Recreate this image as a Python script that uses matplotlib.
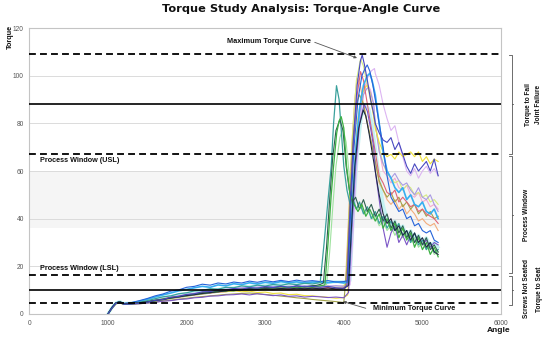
import matplotlib
matplotlib.use("Agg")
import matplotlib.pyplot as plt
import matplotlib.transforms as mtransforms

# ---------------- data ----------------
TITLE = "Torque Study Analysis: Torque-Angle Curve"
X_TICKS = [0, 1000, 2000, 3000, 4000, 5000, 6000]
Y_TICKS = [0, 20, 40, 60, 80, 100, 120]

LIMIT_DASHED = [109, 67, 16.5, 4.5]
LIMIT_SOLID = [88, 10]
BAND = [36, 60]

RAMP_ANGLE = [1000, 1050, 1100, 1150, 1200, 1300, 1400, 1500, 1600, 1700, 1800, 1900, 2000, 2100,
              2200, 2300, 2400, 2500, 2600, 2700, 2800, 2900, 3000, 3100, 3200, 3300, 3400, 3500, 3600]
TAIL_ANGLE = [4400, 4450, 4500, 4550, 4600, 4650, 4700, 4750, 4800, 4850, 4900, 4950, 5000,
              5050, 5100, 5150, 5200]

# early group
teal_ramp = [0, 2.8, 4.6, 5.1, 4.3, 4.4, 4.9, 5.6, 6.4, 7.2, 7.6, 8.5, 8.9, 9.7, 9.9, 10.6, 10.4, 11.2,
             11.0, 11.8, 11.4, 12.1, 11.7, 12.4, 12.0, 12.7, 12.3, 12.9, 12.6]
teal_mid_a = [3650, 3700, 3750, 3800, 3840, 3870, 3907, 3940, 3970, 4000, 4040, 4080, 4120, 4160, 4200, 4250, 4300, 4350]
teal_mid_t = [12.9, 13.2, 30, 48, 62, 80, 95.8, 90, 76, 62, 52, 46, 48, 44, 47, 42, 45, 40]
teal_tail = [43, 38, 41, 36, 39, 35, 38, 33, 35, 30, 34, 29, 31, 27, 30, 26, 27]

green_ramp = [0, 2.5, 4.4, 5.0, 4.2, 4.3, 4.6, 5.2, 5.5, 6.3, 6.6, 7.3, 7.6, 8.3, 8.5, 9.2, 9.3, 9.9,
              9.7, 10.4, 10.2, 10.8, 10.4, 11.0, 10.7, 11.3, 10.9, 11.5, 11.2]
green_mid_a = [3650, 3700, 3760, 3800, 3840, 3870, 3910, 3940, 3967, 4000, 4035, 4080, 4130, 4180, 4230, 4280, 4330]
green_mid_t = [11.5, 11.8, 12.2, 30, 50, 62, 76, 81, 82.8, 78, 62, 50, 46, 43, 46, 41, 44]
green_tail = [39, 42, 36, 40, 35, 38, 32, 36, 31, 34, 28, 32, 27, 30, 25, 28, 24]

dkgreen_ramp = [0, 2.6, 4.5, 5.2, 4.4, 4.5, 4.8, 5.0, 5.8, 6.0, 6.9, 7.1, 7.9, 8.1, 8.9, 8.8, 9.7, 9.6,
                10.4, 10.1, 10.8, 10.4, 11.2, 10.9, 11.5, 11.0, 11.8, 11.3, 11.9]
dkgreen_mid_a = [3650, 3700, 3740, 3780, 3820, 3860, 3900, 3950, 3990, 4030, 4070, 4110, 4150, 4200, 4250, 4300, 4350]
dkgreen_mid_t = [12.0, 12.4, 13, 28, 48, 66, 77, 81.5, 77, 62, 52, 47, 49, 44, 48, 43, 46]
dkgreen_tail = [41, 44, 39, 42, 36, 39, 34, 37, 32, 35, 30, 33, 29, 32, 27, 29, 26]

palegreen_ramp = [0, 2.4, 4.3, 4.9, 4.1, 4.2, 4.5, 4.9, 5.4, 5.9, 6.4, 6.9, 7.4, 7.9, 8.3, 8.7, 9.1, 9.4,
                  9.8, 10.0, 10.3, 10.1, 10.5, 10.8, 10.5, 10.9, 10.7, 11.1, 10.9]
palegreen_mid_a = [3650, 3700, 3780, 3820, 3860, 3900, 3950, 3990, 4030, 4070, 4110, 4160, 4210, 4260, 4310, 4360]
palegreen_mid_t = [11.0, 11.3, 12, 26, 45, 62, 74, 78, 72, 58, 48, 44, 46, 42, 44, 40]
palegreen_tail = [41, 37, 39, 35, 37, 33, 36, 32, 34, 30, 32, 28, 30, 27, 29, 25, 26]

# main group
slate_ramp = [0, 2.4, 4.4, 4.9, 4.1, 4.2, 4.6, 5.0, 5.7, 6.1, 7.0, 7.4, 8.2, 8.5, 9.3, 9.4, 10.2, 10.0,
              10.7, 10.4, 11.1, 10.8, 11.5, 11.1, 11.7, 11.2, 11.8, 11.4, 11.6]
slate_mid_a = [3700, 3800, 3900, 4000, 4040, 4080, 4120, 4170, 4210, 4234, 4260, 4300, 4340, 4380]
slate_mid_t = [11.2, 11.6, 11.0, 10.8, 12, 45, 72, 96, 106, 108.7, 105, 98, 90, 84]
slate_tail = [80, 76, 73, 72, 74, 69, 72, 67, 62, 59, 63, 60, 62, 64, 60, 65, 58]

blue_ramp = [0, 2.7, 4.7, 5.2, 4.4, 4.8, 5.6, 6.5, 7.6, 8.4, 9.6, 10.1, 11.2, 11.6, 12.5, 12.1, 13.0, 12.6,
             13.4, 13.0, 13.8, 13.3, 14.0, 13.5, 14.1, 13.6, 14.2, 13.7, 14.0]
blue_mid_a = [3700, 3800, 3900, 4000, 4050, 4090, 4130, 4180, 4230, 4270, 4298, 4330, 4370]
blue_mid_t = [13.6, 14.0, 13.4, 13.6, 14, 45, 70, 90, 100, 103, 104.5, 102, 96]
blue_tail = [90, 80, 70, 58, 49, 46, 43, 44, 40, 41, 37, 38, 35, 34, 35, 31, 30]

ltblue_ramp = [0, 2.6, 4.5, 5.0, 4.3, 4.6, 5.3, 6.2, 7.1, 8.0, 8.8, 9.7, 10.3, 11.0, 11.6, 11.2, 12.2, 11.8,
               12.7, 12.3, 13.1, 12.6, 13.3, 12.9, 13.6, 13.1, 13.5, 13.0, 13.4]
ltblue_mid_a = [3700, 3800, 3900, 4000, 4060, 4100, 4150, 4200, 4250, 4300, 4331, 4360]
ltblue_mid_t = [13.4, 13.1, 13.5, 13.0, 13.5, 40, 68, 86, 96, 100, 101, 98]
ltblue_tail = [92, 80, 68, 60, 57, 53, 51, 53, 48, 50, 46, 45, 47, 43, 42, 44, 40]

lavender_ramp = [0, 2.5, 4.4, 4.9, 4.2, 4.3, 4.6, 5.1, 5.7, 6.3, 7.0, 7.6, 8.2, 8.7, 9.2, 9.6, 10.1, 10.4,
                 10.8, 11.1, 11.0, 11.4, 11.6, 11.3, 11.7, 11.5, 11.8, 11.6, 11.9]
lavender_mid_a = [3700, 3800, 3900, 4000, 4080, 4120, 4160, 4200, 4250, 4300, 4350, 4390]
lavender_mid_t = [11.7, 12.0, 11.6, 11.9, 12.2, 35, 60, 80, 92, 99, 102, 103]
lavender_tail = [101, 96, 88, 82, 77, 79, 72, 66, 60, 58, 61, 57, 60, 62, 59, 61, 58]

lime_ramp = [0, 2.5, 4.5, 5.0, 4.2, 4.3, 4.6, 5.0, 5.5, 6.1, 6.7, 7.2, 7.8, 8.3, 8.8, 9.2, 9.6, 10.0,
             10.3, 10.7, 10.5, 11.0, 11.2, 10.9, 11.4, 11.1, 11.5, 11.3, 11.6]
lime_mid_a = [3700, 3800, 3900, 3980, 4030, 4070, 4110, 4160, 4213, 4250, 4300, 4350]
lime_mid_t = [11.4, 11.7, 11.2, 11.4, 13, 45, 75, 98, 107, 104, 96, 88]
lime_tail = [80, 70, 63, 59, 57, 55, 56, 52, 54, 53, 50, 51, 49, 50, 47, 48, 46]

yellow_ramp = [0, 2.3, 4.3, 4.8, 4.0, 4.1, 4.5, 5.0, 5.6, 6.2, 6.9, 7.3, 8.0, 8.3, 8.9, 9.1, 9.6, 9.3,
               9.8, 9.3, 9.6, 9.0, 9.2, 8.6, 8.8, 8.1, 8.3, 7.7, 7.6]
yellow_mid_a = [3700, 3800, 3900, 4000, 4050, 4090, 4130, 4180, 4230, 4270, 4298, 4330, 4370]
yellow_mid_t = [7.3, 7.0, 6.6, 6.9, 8, 35, 60, 82, 92, 95, 96, 93, 85]
yellow_tail = [78, 72, 68, 66, 67, 65, 68, 66, 67, 68, 66, 68, 64, 66, 63, 65, 64]

red_ramp = [0, 2.6, 4.5, 5.0, 4.2, 4.4, 4.7, 5.2, 5.7, 6.3, 6.9, 7.4, 7.9, 8.4, 8.8, 9.2, 9.6, 9.9,
            10.2, 10.5, 10.3, 10.7, 10.9, 10.6, 10.9, 10.7, 11.0, 10.8, 11.0]
red_mid_a = [3700, 3800, 3900, 4000, 4040, 4080, 4120, 4170, 4213, 4250, 4290, 4330, 4370]
red_mid_t = [10.8, 11.1, 10.7, 10.9, 12, 42, 70, 92, 101.7, 98, 90, 82, 74]
red_tail = [68, 58, 55, 51, 50, 52, 47, 49, 47, 45, 46, 43, 44, 42, 41, 40, 38]

peach_ramp = [0, 2.4, 4.3, 4.9, 4.1, 4.2, 4.5, 4.9, 5.4, 5.9, 6.5, 7.0, 7.5, 8.0, 8.4, 8.8, 9.1, 9.4,
              9.7, 9.9, 10.2, 10.0, 10.3, 10.1, 10.4, 10.2, 10.5, 10.3, 10.5]
peach_mid_a = [3700, 3800, 3900, 3980, 4020, 4060, 4100, 4140, 4170, 4210, 4250, 4300, 4350]
peach_mid_t = [10.4, 10.6, 10.3, 10.5, 12, 40, 70, 90, 99, 96, 88, 80, 72]
peach_tail = [64, 55, 52, 48, 46, 48, 44, 46, 42, 44, 42, 39, 40, 38, 37, 38, 35]

navy_ramp = [0, 2.6, 4.6, 5.1, 4.3, 4.4, 4.7, 5.1, 5.6, 6.1, 6.7, 7.2, 7.7, 8.1, 8.6, 9.0, 9.3, 9.7,
             10.0, 10.2, 10.5, 10.3, 10.6, 10.4, 10.7, 10.5, 10.8, 10.6, 10.8]
navy_mid_a = [3700, 3800, 3900, 4000, 4060, 4100, 4140, 4190, 4247, 4280, 4320, 4360]
navy_mid_t = [10.6, 10.9, 10.5, 10.7, 12, 38, 62, 78, 85.6, 83, 76, 68]
navy_tail = [60, 50, 42, 38, 40, 35, 37, 33, 35, 31, 34, 30, 32, 28, 30, 26, 25]

purple_ramp = [0, 2.4, 4.4, 4.9, 4.1, 4.2, 4.3, 4.6, 4.9, 5.4, 5.6, 6.1, 6.3, 6.8, 7.0, 7.5, 7.6, 8.0,
               8.1, 8.4, 8.0, 8.5, 8.1, 7.7, 8.0, 7.4, 7.6, 7.1, 7.4]
purple_mid_a = [3700, 3800, 3900, 4000, 4060, 4100, 4150, 4200, 4260, 4300, 4340, 4380]
purple_mid_t = [7.2, 6.9, 7.1, 6.8, 9, 35, 62, 80, 88, 85, 78, 70]
purple_tail = [60, 48, 36, 28, 34, 37, 30, 33, 29, 33, 30, 32, 29, 31, 28, 30, 29]

olive_ramp = [0, 2.3, 4.2, 4.7, 4.0, 4.1, 4.3, 4.6, 5.0, 5.4, 5.8, 6.2, 6.6, 7.0, 7.3, 7.6, 7.9, 8.2,
              8.4, 8.6, 8.8, 8.5, 8.2, 7.9, 7.5, 7.2, 6.8, 6.5, 6.1]
olive_mid_a = [3700, 3800, 3900, 3950, 4000, 4040, 4080, 4120, 4160, 4200, 4250, 4300, 4350]
olive_mid_t = [5.8, 5.5, 5.2, 5.0, 4.8, 20, 50, 75, 88, 92, 88, 80, 72]
olive_tail = [64, 56, 52, 49, 51, 47, 49, 45, 47, 44, 46, 42, 44, 41, 43, 40, 41]

lilac_ramp = [0, 2.5, 4.5, 5.0, 4.2, 4.3, 4.6, 5.1, 5.7, 6.4, 7.0, 7.6, 8.1, 8.6, 9.1, 9.5, 9.9, 10.3,
              10.6, 10.9, 11.2, 11.0, 11.4, 11.6, 11.3, 11.7, 11.5, 11.9, 11.6]
lilac_mid_a = [3700, 3800, 3900, 4000, 4070, 4110, 4150, 4200, 4250, 4300, 4340, 4380]
lilac_mid_t = [11.8, 11.5, 11.9, 11.6, 12.5, 40, 66, 84, 92, 95, 93, 88]
lilac_tail = [80, 68, 63, 60, 57, 59, 56, 54, 55, 52, 50, 53, 49, 48, 50, 46, 43]

pink_ramp = [0, 2.5, 4.4, 4.9, 4.1, 4.3, 4.6, 5.0, 5.5, 6.0, 6.5, 7.0, 7.5, 8.0, 8.4, 8.8, 9.2, 9.5,
             9.8, 10.1, 9.9, 10.3, 10.5, 10.2, 10.6, 10.4, 10.7, 10.5, 10.8]
pink_mid_a = [3700, 3800, 3900, 4000, 4060, 4100, 4140, 4190, 4240, 4290, 4340, 4380]
pink_mid_t = [10.6, 10.9, 10.5, 10.8, 12, 38, 64, 84, 94, 97, 94, 88]
pink_tail = [80, 69, 60, 58, 55, 57, 53, 52, 54, 50, 49, 51, 47, 48, 45, 46, 44]

cyan_ramp = [0, 2.6, 4.6, 5.2, 4.4, 4.6, 5.0, 5.6, 6.2, 6.8, 7.4, 8.0, 8.5, 9.0, 9.5, 9.9, 10.3, 10.7,
             11.0, 11.3, 11.6, 11.9, 12.1, 12.3, 12.5, 12.7, 12.9, 13.0, 13.2]
cyan_mid_a = [3700, 3800, 3900, 4000, 4080, 4120, 4170, 4220, 4270, 4320, 4360]
cyan_mid_t = [13.3, 13.4, 13.5, 13.5, 14, 40, 66, 82, 88, 86, 80]
cyan_tail = [70, 58, 46, 40, 37, 39, 35, 37, 33, 35, 31, 33, 30, 32, 29, 30, 28]

# ---------------- figure ----------------
plt.rcParams['font.family'] = ['Liberation Sans', 'DejaVu Sans']
fig = plt.figure(figsize=(5.5, 3.4), dpi=100)
ax = fig.add_axes([0.0533, 0.0765, 0.8577, 0.8411])

ax.set_xlim(0, 6000)
ax.set_ylim(0, 120)
ax.set_xticks(X_TICKS)
ax.set_yticks(Y_TICKS)
ax.tick_params(length=0, labelsize=4.8, colors='#555555', pad=4)
for s in ax.spines.values():
    s.set_color('#c4c4c4')
    s.set_linewidth(0.8)
ax.grid(axis='y', color='#d6d6d6', linewidth=0.6, zorder=0)
ax.set_axisbelow(True)
ax.axhspan(BAND[0], BAND[1], color='#f5f5f5', zorder=0.5, lw=0)

curves = [
    (cyan_ramp, cyan_mid_a, cyan_mid_t, cyan_tail, '#c4f2f2', 2.2),
    (palegreen_ramp, palegreen_mid_a, palegreen_mid_t, palegreen_tail, '#9ee29e', 0.8),
    (lavender_ramp, lavender_mid_a, lavender_mid_t, lavender_tail, '#dcb4f2', 0.8),
    (pink_ramp, pink_mid_a, pink_mid_t, pink_tail, '#f3acd2', 0.8),
    (peach_ramp, peach_mid_a, peach_mid_t, peach_tail, '#f3ad7c', 0.8),
    (lime_ramp, lime_mid_a, lime_mid_t, lime_tail, '#d6ec80', 0.8),
    (lilac_ramp, lilac_mid_a, lilac_mid_t, lilac_tail, '#a99ae2', 0.8),
    (yellow_ramp, yellow_mid_a, yellow_mid_t, yellow_tail, '#eee03a', 0.8),
    (olive_ramp, olive_mid_a, olive_mid_t, olive_tail, '#a2a24a', 0.8),
    (red_ramp, red_mid_a, red_mid_t, red_tail, '#de6478', 0.8),
    (purple_ramp, purple_mid_a, purple_mid_t, purple_tail, '#7b55c6', 0.8),
    (ltblue_ramp, ltblue_mid_a, ltblue_mid_t, ltblue_tail, '#36aef0', 1.2),
    (blue_ramp, blue_mid_a, blue_mid_t, blue_tail, '#2563d9', 0.8),
    (teal_ramp, teal_mid_a, teal_mid_t, teal_tail, '#3aa19c', 0.9),
    (dkgreen_ramp, dkgreen_mid_a, dkgreen_mid_t, dkgreen_tail, '#2f5f50', 0.8),
    (green_ramp, green_mid_a, green_mid_t, green_tail, '#3cb043', 0.9),
    (navy_ramp, navy_mid_a, navy_mid_t, navy_tail, '#1e2a44', 0.8),
    (slate_ramp, slate_mid_a, slate_mid_t, slate_tail, '#4848c0', 0.8),
]
for ramp, mid_a, mid_t, tail, col, lw in curves:
    xs = RAMP_ANGLE + mid_a + TAIL_ANGLE
    ys = ramp + mid_t + tail
    ax.plot(xs, ys, color=col, lw=lw, zorder=2, solid_joinstyle='round')

for y in LIMIT_DASHED:
    ax.axhline(y, color='black', lw=1.3, linestyle=(0, (3.8, 2.3)), zorder=3)
for y in LIMIT_SOLID:
    ax.axhline(y, color='black', lw=1.2, zorder=3)

bold = dict(fontweight='bold', color='#111111')
ax.text(136, 64.2, "Process Window (USL)", fontsize=5.2, va='center', ha='left', **bold)
ax.text(136, 18.9, "Process Window (LSL)", fontsize=5.2, va='center', ha='left', **bold)

ax.text(3583, 114.3, "Maximum Torque Curve", fontsize=5.3, va='center', ha='right', **bold)
ax.annotate("", xy=(4168, 107.4), xytext=(3630, 114.0),
            arrowprops=dict(arrowstyle='-|>', color='#555555', lw=0.6,
                            mutation_scale=4, shrinkA=0, shrinkB=0))
ax.text(4370, 2.3, "Minimum Torque Curve", fontsize=5.3, va='center', ha='left', **bold)
ax.annotate("", xy=(3990, 5.2), xytext=(4279, 2.4),
            arrowprops=dict(arrowstyle='-|>', color='#555555', lw=0.6,
                            mutation_scale=4, shrinkA=0, shrinkB=0))

# axis labels
fig.text(10 / 550, 1 - 36.5 / 340, "Torque", rotation=90, fontsize=5.2, ha='center', va='center', **bold)
fig.text(510 / 550, 1 - 331 / 340, "Angle", fontsize=6.0, ha='right', va='center', **bold)

# title
fig.text(301.4 / 550, 1 - 8.8 / 340, TITLE, fontsize=8.2, ha='center', va='center',
         fontweight='bold', family='DejaVu Sans', color='#111111')

# right-hand braces
trans = mtransforms.blended_transform_factory(ax.transAxes, ax.transData)
xb, xl, xr = 1.0233, 1.0170, 1.0260
def brace(y0, y1):
    ym = (y0 + y1) / 2
    ax.plot([xl, xb, xb, xl], [y0, y0, y1, y1], transform=trans, color='#555555', lw=0.6, clip_on=False)
    ax.plot([xb, xr], [ym, ym], transform=trans, color='#555555', lw=0.6, clip_on=False)
brace(108.7, 67.3)
brace(66.2, 17.2)
brace(16.0, 3.8)

bkw = dict(rotation=90, fontsize=4.7, ha='center', va='center', transform=trans, **bold)
ax.text((528.3 - 29.3) / 471.7, 88, "Torque to Fail", **bkw)
ax.text((538.3 - 29.3) / 471.7, 88, "Joint Failure", **bkw)
ax.text((526.5 - 29.3) / 471.7, 41.5, "Process Window", **bkw)
ax.text((526.5 - 29.3) / 471.7, 10.5, "Screws Not Seated", **bkw)
ax.text((539.5 - 29.3) / 471.7, 10.5, "Torque to Seat", **bkw)

fig.savefig("out.png", dpi=100)
